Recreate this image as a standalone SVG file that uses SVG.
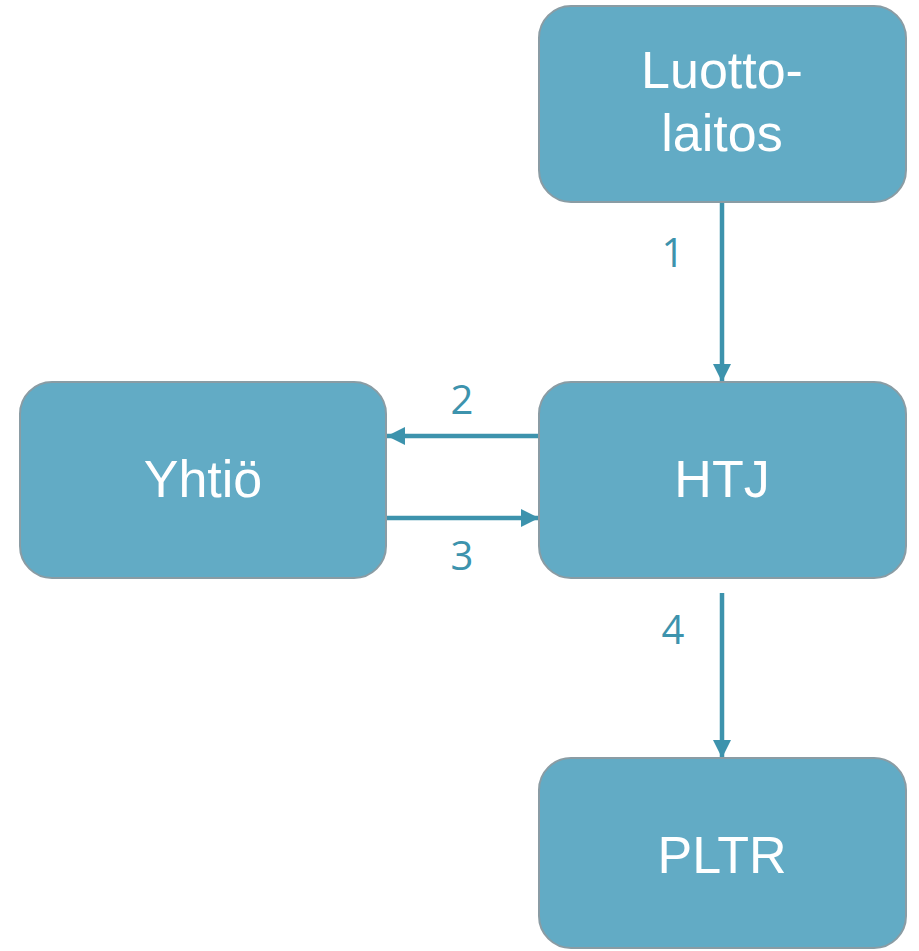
<svg xmlns="http://www.w3.org/2000/svg" width="919" height="951" viewBox="0 0 919 951">
<style>
.box{fill:#62abc5;stroke:#8a9ca4;stroke-width:2}
.t{font-family:"Liberation Sans",Arial,sans-serif;font-size:52px;fill:#ffffff;text-anchor:middle}
.n{font-family:"Open Sans","Liberation Sans",sans-serif;font-size:40px;fill:#3d93ad;text-anchor:middle}
.c{stroke:#3d93ad;stroke-width:4.5;fill:none}
</style>
<defs>
<marker id="ah" viewBox="0 0 10 10" refX="10" refY="5" markerWidth="4" markerHeight="4" orient="auto" markerUnits="strokeWidth">
<path d="M0,0 L10,5 L0,10 z" fill="#3d93ad"/>
</marker>
</defs>
<g id="connectors">
<line class="c" x1="722" y1="202" x2="722" y2="382" marker-end="url(#ah)"/>
<line class="c" x1="539" y1="436" x2="387" y2="436" marker-end="url(#ah)"/>
<line class="c" x1="386" y1="518" x2="539" y2="518" marker-end="url(#ah)"/>
<line class="c" x1="722" y1="593" x2="722" y2="758" marker-end="url(#ah)"/>
<text class="n" x="673" y="267">1</text>
<text class="n" x="462" y="414">2</text>
<text class="n" x="462" y="570">3</text>
<text class="n" x="673" y="644">4</text>
</g>
<g id="luottolaitos">
<rect class="box" x="539" y="6" width="367" height="196" rx="32"/>
<text class="t" x="722" y="88">Luotto-</text>
<text class="t" x="722" y="151">laitos</text>
</g>
<g id="yhtio">
<rect class="box" x="20" y="382" width="366" height="196" rx="32"/>
<text class="t" x="203" y="497">Yhtiö</text>
</g>
<g id="htj">
<rect class="box" x="539" y="382" width="367" height="196" rx="32"/>
<text class="t" x="722" y="497">HTJ</text>
</g>
<g id="pltr">
<rect class="box" x="539" y="758" width="367" height="190" rx="32"/>
<text class="t" x="722" y="873">PLTR</text>
</g>
</svg>
